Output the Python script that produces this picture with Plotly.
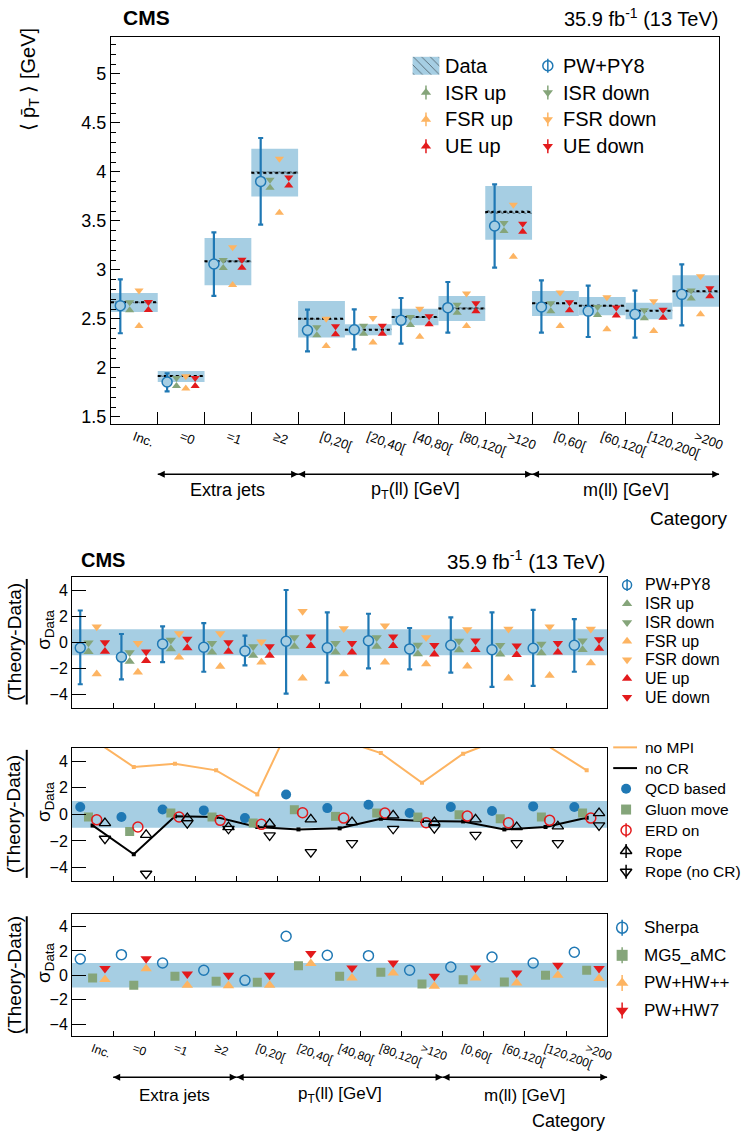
import plotly.graph_objects as go

W, H = 749, 1137

# ---------------- data ----------------
categories = ["Inc.", "=0", "=1", "≥2", "[0,20[", "[20,40[", "[40,80[", "[80,120[",
              ">120", "[0,60[", "[60,120[", "[120,200[", ">200"]
group_names = ["Extra jets", "p<sub>T</sub>(ll) [GeV]", "m(ll) [GeV]"]
group_edges = [1, 4, 9, 13]

# top panel: mean pT
data_val = [2.67, 1.918, 3.088, 3.993, 2.503, 2.39, 2.52, 2.608, 3.592, 2.66, 2.636, 2.585, 2.782]
data_hi = [2.765, 1.97, 3.327, 4.238, 2.684, 2.445, 2.605, 2.735, 3.857, 2.786, 2.724, 2.666, 2.945]
data_lo = [2.57, 1.857, 2.843, 3.751, 2.312, 2.333, 2.435, 2.48, 3.309, 2.531, 2.537, 2.496, 2.625]
data_stat = [0.01, 0.01, 0.012, 0.015, 0.01, 0.01, 0.01, 0.012, 0.02, 0.01, 0.01, 0.01, 0.012]
pwpy8 = [2.636, 1.857, 3.061, 3.904, 2.384, 2.39, 2.486, 2.615, 3.449, 2.622, 2.58, 2.547, 2.751]
pwpy8_hi = [2.905, 1.945, 3.384, 4.347, 2.595, 2.598, 2.714, 2.877, 3.874, 2.894, 2.84, 2.789, 3.057]
pwpy8_lo = [2.354, 1.76, 2.735, 3.462, 2.17, 2.19, 2.248, 2.36, 3.023, 2.36, 2.316, 2.31, 2.435]
isr_up = [2.63, 1.857, 3.06, 3.88, 2.374, 2.39, 2.48, 2.605, 3.439, 2.62, 2.58, 2.547, 2.75]
isr_dn = [2.63, 1.857, 3.06, 3.88, 2.374, 2.39, 2.48, 2.605, 3.439, 2.62, 2.58, 2.547, 2.75]
fsr_up = [2.47, 1.83, 2.888, 3.626, 2.265, 2.30, 2.36, 2.47, 3.177, 2.47, 2.435, 2.418, 2.588]
fsr_dn = [2.75, 1.874, 3.19, 4.095, 2.462, 2.47, 2.564, 2.72, 3.626, 2.73, 2.68, 2.64, 2.894]
ue_up = [2.633, 1.857, 3.064, 3.904, 2.384, 2.39, 2.486, 2.62, 3.432, 2.63, 2.575, 2.554, 2.772]
ue_dn = [2.633, 1.857, 3.064, 3.904, 2.384, 2.39, 2.486, 2.62, 3.432, 2.63, 2.575, 2.554, 2.772]

# panel 1: (theory-data)/sigma, PW+PY8 variations
s_pw = [-0.43, -1.14, -0.13, -0.38, -0.68, 0.08, -0.43, 0.12, -0.51, -0.23, -0.58, -0.46, -0.23]
s_pw_hi = [2.43, 0.63, 1.22, 1.47, 0.5, 4.0, 2.28, 2.18, 1.09, 1.9, 2.28, 2.48, 1.77]
s_pw_lo = [-3.22, -2.84, -1.52, -2.26, -1.78, -3.93, -3.1, -2.0, -2.08, -2.33, -3.42, -3.35, -2.26]
s_isr_up = [-0.38, -1.14, -0.18, -0.43, -0.68, 0.02, -0.43, 0.02, -0.56, -0.25, -0.58, -0.48, -0.23]
s_isr_dn = [-0.38, -1.14, -0.18, -0.43, -0.68, 0.02, -0.43, 0.02, -0.56, -0.25, -0.58, -0.48, -0.23]
s_fsr_up = [-2.08, -1.95, -0.81, -1.52, -1.19, -2.41, -2.08, -1.19, -1.32, -1.5, -2.41, -2.2, -1.24]
s_fsr_dn = [0.84, -0.43, 0.33, 0.33, -0.3, 2.02, 0.71, 0.91, 0.02, 0.63, 0.66, 0.84, 0.66]
s_ue_up = [-0.36, -1.07, -0.1, -0.36, -0.68, 0.08, -0.43, 0.08, -0.58, -0.23, -0.61, -0.43, -0.13]
s_ue_dn = [-0.36, -1.07, -0.1, -0.36, -0.68, 0.08, -0.43, 0.08, -0.58, -0.23, -0.61, -0.43, -0.13]

# panel 2: MPI / CR models
no_mpi = [5.65, 3.56, 3.8, 3.31, 1.5, 8.05, 5.63, 4.61, 2.38, 4.56, 5.74, 5.26, 3.31]
no_cr = [-0.83, -3.0, -0.15, -0.2, -0.95, -1.13, -1.05, -0.33, -0.5, -0.53, -1.13, -0.95, -0.25]
qcd_based = [0.55, -0.2, 0.37, 0.3, -0.28, 1.5, 0.47, 0.72, 0.1, 0.55, 0.25, 0.6, 0.55]
gluon_move = [-0.2, -1.28, 0.1, -0.2, -0.65, 0.35, -0.15, 0.1, -0.2, -0.03, -0.33, -0.2, 0.1]
erd_on = [-0.41, -0.95, -0.2, -0.45, -0.75, 0.12, -0.28, 0.1, -0.63, -0.13, -0.63, -0.45, -0.28]
rope = [-0.28, -1.16, 0.1, -0.58, -0.33, 0.0, -0.2, 0.3, -0.2, 0.0, -0.58, -0.53, 0.47]
rope_nocr = [-2.21, -4.84, -1.03, -1.46, -1.95, -3.21, -2.53, -1.46, -1.41, -1.91, -2.53, -2.53, -1.2]

# panel 3: other generators
sherpa = [1.34, 1.69, 1.01, 0.41, -0.41, 3.2, 1.64, 1.61, 0.41, 0.68, 1.5, 1.01, 1.89]
mg5_amc = [-0.22, -0.82, -0.08, -0.49, -0.57, 0.79, -0.08, 0.25, -0.71, -0.36, -0.55, 0.0, 0.41]
pw_hwpp = [0.06, 0.95, -0.4, -0.44, -0.41, 1.37, 0.19, 0.6, -0.49, 0.19, -0.22, 0.41, 0.14]
pw_hw7 = [0.14, 0.95, -0.3, -0.41, -0.41, 1.37, 0.19, 0.6, -0.49, 0.19, -0.22, 0.41, 0.14]

sigma_band = 1.0

# ---------------- style ----------------
LB = "#a6cee3"
BLUE = "#1f78b4"
GREEN = "#85a57a"
ORANGE = "#fdb462"
RED = "#e31a1c"
FONT = "Liberation Sans, Arial, sans-serif"

n = len(categories)
centers = [i + 0.5 for i in range(n)]
edges = list(range(1, n))


def offs(f):
    return [i + f for i in range(n)]


def dom_x(a, b):
    return [a / W, b / W]


def dom_y(top, bottom):
    return [1 - bottom / H, 1 - top / H]


def px(x):
    return x / W


def py(y):
    return 1 - y / H


fig = go.Figure()


def tri(xs, ys, color, up, size, xa, ya, open_=False):
    sym = 'triangle-up-open' if open_ else 'triangle-up'
    return go.Scatter(
        x=xs, y=ys, mode='markers', xaxis=xa, yaxis=ya, showlegend=False, hoverinfo='skip',
        marker=dict(symbol=sym, size=size, color=color, angle=0 if up else 180,
                    standoff=size / 2, line=dict(width=1.3 if open_ else 0, color=color)))


# ---------------- top panel ----------------
fig.add_trace(go.Bar(x=centers, base=data_lo, y=[h - l for h, l in zip(data_hi, data_lo)], width=1,
                     marker=dict(color=LB, line=dict(width=0)), xaxis='x', yaxis='y', showlegend=False))
fig.add_trace(go.Bar(x=centers, base=[d - s for d, s in zip(data_val, data_stat)],
                     y=[2 * s for s in data_stat], width=1,
                     marker=dict(color='rgba(0,0,0,0)', line=dict(width=0),
                                 pattern=dict(shape='\\', fgcolor='black', size=4, solidity=0.3)),
                     xaxis='x', yaxis='y', showlegend=False))
lx, ly = [], []
for i, d in enumerate(data_val):
    lx += [i, i + 1, None]
    ly += [d, d, None]
fig.add_trace(go.Scatter(x=lx, y=ly, mode='lines', line=dict(color='black', width=2, dash='dot'),
                         xaxis='x', yaxis='y', showlegend=False))
fig.add_trace(go.Scatter(
    x=offs(0.2), y=pwpy8, mode='markers', xaxis='x', yaxis='y', showlegend=False,
    marker=dict(symbol='circle', size=10, color=LB, line=dict(color=BLUE, width=1.5)),
    error_y=dict(type='data', symmetric=False, array=[h - v for h, v in zip(pwpy8_hi, pwpy8)],
                 arrayminus=[v - l for v, l in zip(pwpy8, pwpy8_lo)], color=BLUE, thickness=2.2, width=2.5)))
TS = 8
fig.add_trace(tri(offs(0.4), isr_up, GREEN, True, TS, 'x', 'y'))
fig.add_trace(tri(offs(0.4), isr_dn, GREEN, False, TS, 'x', 'y'))
fig.add_trace(tri(offs(0.6), fsr_up, ORANGE, True, TS, 'x', 'y'))
fig.add_trace(tri(offs(0.6), fsr_dn, ORANGE, False, TS, 'x', 'y'))
fig.add_trace(tri(offs(0.8), ue_up, RED, True, TS, 'x', 'y'))
fig.add_trace(tri(offs(0.8), ue_dn, RED, False, TS, 'x', 'y'))

# ---------------- panel 1 ----------------
T1 = 9
fig.add_trace(go.Scatter(
    x=offs(0.2), y=s_pw, mode='markers', xaxis='x2', yaxis='y2', showlegend=False,
    marker=dict(symbol='circle', size=10, color=LB, line=dict(color=BLUE, width=1.5)),
    error_y=dict(type='data', symmetric=False, array=[h - v for h, v in zip(s_pw_hi, s_pw)],
                 arrayminus=[v - l for v, l in zip(s_pw, s_pw_lo)], color=BLUE, thickness=2.2, width=2.5)))
fig.add_trace(tri(offs(0.4), s_isr_up, GREEN, True, T1, 'x2', 'y2'))
fig.add_trace(tri(offs(0.4), s_isr_dn, GREEN, False, T1, 'x2', 'y2'))
fig.add_trace(tri(offs(0.6), s_fsr_up, ORANGE, True, T1, 'x2', 'y2'))
fig.add_trace(tri(offs(0.6), s_fsr_dn, ORANGE, False, T1, 'x2', 'y2'))
fig.add_trace(tri(offs(0.8), s_ue_up, RED, True, T1, 'x2', 'y2'))
fig.add_trace(tri(offs(0.8), s_ue_dn, RED, False, T1, 'x2', 'y2'))

# ---------------- panel 2 ----------------
fig.add_trace(go.Scatter(x=centers, y=no_mpi, mode='lines+markers', xaxis='x3', yaxis='y3', showlegend=False,
                         line=dict(color=ORANGE, width=2), marker=dict(size=4, color=ORANGE, symbol='square')))
fig.add_trace(go.Scatter(x=centers, y=no_cr, mode='lines+markers', xaxis='x3', yaxis='y3', showlegend=False,
                         line=dict(color='black', width=2), marker=dict(size=4, color='black', symbol='square')))
fig.add_trace(go.Scatter(x=offs(0.2), y=qcd_based, mode='markers', xaxis='x3', yaxis='y3', showlegend=False,
                         marker=dict(symbol='circle', size=10, color=BLUE)))
fig.add_trace(go.Scatter(x=offs(0.4), y=gluon_move, mode='markers', xaxis='x3', yaxis='y3', showlegend=False,
                         marker=dict(symbol='square', size=9, color=GREEN)))
fig.add_trace(go.Scatter(x=offs(0.6), y=erd_on, mode='markers', xaxis='x3', yaxis='y3', showlegend=False,
                         marker=dict(symbol='circle-open', size=10, color=RED, line=dict(width=1.5))))
fig.add_trace(tri(offs(0.8), rope, 'black', True, 10, 'x3', 'y3', open_=True))
fig.add_trace(tri(offs(0.8), rope_nocr, 'black', False, 10, 'x3', 'y3', open_=True))

# ---------------- panel 3 ----------------
fig.add_trace(go.Scatter(x=offs(0.2), y=sherpa, mode='markers', xaxis='x4', yaxis='y4', showlegend=False,
                         marker=dict(symbol='circle-open', size=10, color=BLUE, line=dict(width=1.5))))
fig.add_trace(go.Scatter(x=offs(0.5), y=mg5_amc, mode='markers', xaxis='x4', yaxis='y4', showlegend=False,
                         marker=dict(symbol='square', size=9, color=GREEN)))
fig.add_trace(tri(offs(0.8), pw_hwpp, ORANGE, True, 10, 'x4', 'y4'))
fig.add_trace(tri(offs(0.8), pw_hw7, RED, False, 10, 'x4', 'y4'))

# ---------------- group arrows (on helper axes sharing the category scale) ----------------
for xa, ya in (('x6', 'y6'), ('x7', 'y7')):
    for g in range(3):
        a, b = group_edges[g], group_edges[g + 1]
        fig.add_trace(go.Scatter(x=[a, b], y=[0.5, 0.5], mode='lines+markers', xaxis=xa, yaxis=ya,
                                 showlegend=False, hoverinfo='skip', cliponaxis=False,
                                 line=dict(color='black', width=1.5),
                                 marker=dict(symbol=['arrow-left', 'arrow-right'], size=7, color='black')))


# ---------------- custom legends (overlay axes in page pixels) ----------------
def leg_text(x, y, text, size):
    fig.add_annotation(xref='x5', yref='y5', x=x, y=y, text=text, showarrow=False,
                       xanchor='left', yanchor='middle', font=dict(size=size, family=FONT))


def leg_marker(x, y, symbol, color, size, err=0, lw=0):
    kw = {}
    if err:
        kw['error_y'] = dict(type='data', array=[err], color=color, thickness=1.5, width=0)
    fig.add_trace(go.Scatter(x=[x], y=[y], mode='markers', xaxis='x5', yaxis='y5', showlegend=False,
                             marker=dict(symbol=symbol, size=size, color=color, line=dict(width=lw, color=color)),
                             **kw))


top_left = [("Data", None, None), ("ISR up", 'triangle-up', GREEN), ("FSR up", 'triangle-up', ORANGE),
            ("UE up", 'triangle-up', RED)]
top_right = [("PW+PY8", 'circle-open', BLUE), ("ISR down", 'triangle-down', GREEN),
             ("FSR down", 'triangle-down', ORANGE), ("UE down", 'triangle-down', RED)]
TOP_Y0, TOP_DY = 66, 26.9
for i, (lab, sym, col) in enumerate(top_left):
    y = TOP_Y0 + i * TOP_DY
    if sym is None:
        fig.add_trace(go.Bar(x=[430], y=[18], base=[y - 9], width=[27], xaxis='x5', yaxis='y5', showlegend=False,
                             marker=dict(color=LB, line=dict(width=0),
                                         pattern=dict(shape='\\', fgcolor='black', size=6, solidity=0.15))))
    else:
        leg_marker(430, y, sym, col, 9, err=7)
    leg_text(447, y, lab, 20)
for i, (lab, sym, col) in enumerate(top_right):
    y = TOP_Y0 + i * TOP_DY
    leg_marker(553, y, sym, col, 9 if 'tri' in sym else 10, err=7, lw=1.5 if 'open' in sym else 0)
    leg_text(566, y, lab, 20)

p1_items = [("PW+PY8", 'circle-open', BLUE, 6), ("ISR up", 'triangle-up', GREEN, 0),
            ("ISR down", 'triangle-down', GREEN, 0), ("FSR up", 'triangle-up', ORANGE, 0),
            ("FSR down", 'triangle-down', ORANGE, 0), ("UE up", 'triangle-up', RED, 0),
            ("UE down", 'triangle-down', RED, 0)]
for i, (lab, sym, col, e) in enumerate(p1_items):
    y = 587 + i * 18.8
    leg_marker(633, y, sym, col, 9, err=e, lw=1.5 if 'open' in sym else 0)
    leg_text(649, y, lab, 16)

p2_items = [("no MPI", 'line', ORANGE, 0), ("no CR", 'line', 'black', 0), ("QCD based", 'circle', BLUE, 0),
            ("Gluon move", 'square', GREEN, 0), ("ERD on", 'circle-open', RED, 7),
            ("Rope", 'triangle-up-open', 'black', 7), ("Rope (no CR)", 'triangle-down-open', 'black', 7)]
for i, (lab, sym, col, e) in enumerate(p2_items):
    y = 750 + i * 20.8
    if sym == 'line':
        fig.add_trace(go.Scatter(x=[619, 643], y=[y, y], mode='lines', xaxis='x5', yaxis='y5', showlegend=False,
                                 line=dict(color=col, width=2)))
    else:
        leg_marker(632, y, sym, col, 10, err=e, lw=1.5 if 'open' in sym else 0)
    leg_text(649, y, lab, 15.5)

p3_items = [("Sherpa", 'circle-open', BLUE), ("MG5_aMC", 'square', GREEN),
            ("PW+HW++", 'triangle-up', ORANGE), ("PW+HW7", 'triangle-down', RED)]
for i, (lab, sym, col) in enumerate(p3_items):
    y = 931 + i * 27.7
    leg_marker(628, y, sym, col, 11, err=8, lw=1.5 if 'open' in sym else 0)
    leg_text(648, y, lab, 17)

# ---------------- bands ----------------
for k in (2, 3, 4):
    fig.add_shape(type='rect', xref=f'x{k} domain', yref=f'y{k}', x0=0, x1=1, y0=-sigma_band, y1=sigma_band,
                  fillcolor=LB, line=dict(width=0), layer='below')


# ---------------- axes ----------------
def xax(dom, anchor, labels, ticklen, angle_font):
    d = dict(domain=dom, anchor=anchor, range=[0, n], showgrid=False, zeroline=False, showline=True,
             linecolor='black', linewidth=1, mirror=True, ticks='', tickvals=centers, ticktext=categories,
             showticklabels=labels, tickangle=20,
             minor=dict(tickvals=edges, ticks='inside', ticklen=ticklen, tickcolor='black', tickwidth=1))
    if labels:
        d['tickfont'] = dict(size=angle_font, family=FONT)
    return d


def yax_sigma(dom, anchor):
    return dict(domain=dom, anchor=anchor, range=[-5, 5], dtick=2, tick0=0, showgrid=False, zeroline=False,
                showline=True, linecolor='black', linewidth=1, mirror=True, ticks='inside', ticklen=14,
                tickcolor='black', tickfont=dict(size=16, family=FONT))


def hidden_x(dom, anchor):
    return dict(domain=dom, anchor=anchor, range=[0, n], visible=False, fixedrange=True)


def hidden_y(dom, anchor):
    return dict(domain=dom, anchor=anchor, range=[0, 1], visible=False, fixedrange=True)


fig.update_layout(
    width=W, height=H, autosize=False, margin=dict(l=0, r=0, t=0, b=0),
    paper_bgcolor='white', plot_bgcolor='rgba(0,0,0,0)', barmode='overlay', showlegend=False,
    font=dict(family=FONT, color='black'),
    xaxis=xax(dom_x(112, 726), 'y', True, 12, 13),
    yaxis=dict(domain=dom_y(37, 425), anchor='x', range=[1.433, 5.379], dtick=0.5, tick0=0, showgrid=False,
               zeroline=False, showline=True, linecolor='black', linewidth=1, mirror=True, ticks='inside',
               ticklen=9, tickcolor='black', tickfont=dict(size=18, family=FONT),
               minor=dict(dtick=0.1, ticks='inside', ticklen=5, tickcolor='black')),
    xaxis2=xax(dom_x(72.7, 613), 'y2', False, 5, 12),
    yaxis2=yax_sigma(dom_y(579, 710), 'x2'),
    xaxis3=xax(dom_x(72.7, 613), 'y3', False, 5, 12),
    yaxis3=yax_sigma(dom_y(750.5, 884), 'x3'),
    xaxis4=xax(dom_x(72.7, 613), 'y4', True, 5, 12),
    yaxis4=yax_sigma(dom_y(917.5, 1040), 'x4'),
    xaxis5=dict(domain=[0, 1], range=[0, W], visible=False, anchor='y5', fixedrange=True),
    yaxis5=dict(domain=[0, 1], range=[H, 0], visible=False, anchor='x5', fixedrange=True),
    xaxis6=hidden_x(dom_x(112, 726), 'y6'),
    yaxis6=hidden_y(dom_y(470, 482), 'x6'),
    xaxis7=hidden_x(dom_x(72.7, 613), 'y7'),
    yaxis7=hidden_y(dom_y(1075, 1087), 'x7'),
)


# ---------------- text annotations ----------------
def ann(x, y, text, size, xanchor='center', yanchor='middle', angle=0, xref='paper'):
    fig.add_annotation(xref=xref, yref='paper', x=px(x) if xref == 'paper' else x, y=py(y), text=text,
                       showarrow=False, xanchor=xanchor, yanchor=yanchor, textangle=angle,
                       font=dict(size=size, family=FONT))


ann(122, 18, "<b>CMS</b>", 21, xanchor='left')
ann(727, 18, "35.9 fb<sup>-1</sup> (13 TeV)", 20, xanchor='right')
ann(80, 562, "<b>CMS</b>", 20, xanchor='left')
ann(613, 562, "35.9 fb<sup>-1</sup> (13 TeV)", 20.5, xanchor='right')

ann(30, 80, "⟨ p̄<sub>T</sub> ⟩ [GeV]", 20, angle=-90)

for (top, bot) in [(579, 710), (750.5, 884), (917.5, 1040)]:
    mid = (top + bot) / 2
    ann(14, mid, "(Theory-Data)", 19, angle=-90)
    ann(46, mid - 12, "σ<sub>Data</sub>", 19, angle=-90)
    fig.add_shape(type='line', xref='paper', yref='paper', x0=px(27), x1=px(27),
                  y0=py(top + 2), y1=py(bot - 3), line=dict(color='black', width=2))

# group labels
for xa, y_lab, y_cat, cat_x, fs in [('x', 492, 520, 737, 18), ('x4', 1099, 1125, 613, 17)]:
    for g in range(3):
        a, b = group_edges[g], group_edges[g + 1]
        ann((a + b) / 2, y_lab, group_names[g], fs, xref=xa)
    ann(cat_x, y_cat, "Category", fs + 1, xanchor='right')

fig.write_html("out.html", config={'displayModeBar': False},
               post_script="document.body.style.margin='0px';")
